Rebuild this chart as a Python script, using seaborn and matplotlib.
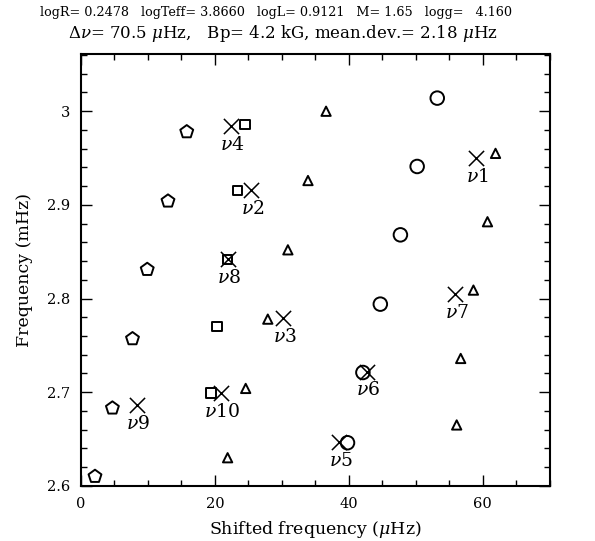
import matplotlib
matplotlib.use('Agg')
import matplotlib.pyplot as plt
from matplotlib.ticker import MultipleLocator, FormatStrFormatter
import seaborn as sns
import pandas as pd

# echelle diagram data (shifted freq in muHz, freq in mHz)
pent_x = [15.8, 13.0, 9.9, 7.7, 4.7, 2.1]
pent_y = [2.978, 2.904, 2.831, 2.757, 2.683, 2.610]
sq_x = [24.5, 23.4, 21.9, 20.3, 19.4]
sq_y = [2.986, 2.915, 2.842, 2.770, 2.699]
circ_x = [53.2, 50.2, 47.7, 44.7, 42.1, 39.8]
circ_y = [3.014, 2.941, 2.868, 2.794, 2.721, 2.646]
tri_x = [36.6, 33.9, 30.9, 27.9, 24.6, 21.9, 61.9, 60.7, 58.6, 56.7, 56.1]
tri_y = [3.000, 2.926, 2.852, 2.778, 2.704, 2.630, 2.955, 2.882, 2.809, 2.736, 2.665]
obs_x = [59.0, 25.4, 30.2, 22.4, 38.6, 42.7, 55.9, 21.9, 8.3, 20.9]
obs_y = [2.950, 2.916, 2.779, 2.984, 2.647, 2.722, 2.805, 2.842, 2.686, 2.699]
obs_lab = ['1', '2', '3', '4', '5', '6', '7', '8', '9', '10']

title1 = 'logR= 0.2478   logTeff= 3.8660   logL= 0.9121   M= 1.65   logg=   4.160'
title2 = r'$\Delta\nu$= 70.5 $\mu$Hz,   Bp= 4.2 kG, mean.dev.= 2.18 $\mu$Hz'

sns.set_style('ticks')
plt.rcParams['font.family'] = ['DejaVu Serif']
plt.rcParams['mathtext.fontset'] = 'dejavuserif'
plt.rcParams['axes.linewidth'] = 1.5
for k in ['text.color', 'axes.labelcolor', 'xtick.color', 'ytick.color', 'axes.edgecolor']:
    plt.rcParams[k] = 'black'

fig = plt.figure(figsize=(5.95, 5.41), dpi=100)
ax = fig.add_axes([0.136, 0.102, 0.788, 0.798])

groups = [
    (pent_x, pent_y, 'p', 95),
    (sq_x, sq_y, 's', 45),
    (circ_x, circ_y, 'o', 95),
    (tri_x, tri_y, '^', 45),
]
for xs, ys, m, s in groups:
    df = pd.DataFrame({'x': xs, 'y': ys})
    sns.scatterplot(data=df, x='x', y='y', ax=ax, marker=m, s=s,
                    facecolors='none', edgecolors='black', linewidths=1.4)

df_obs = pd.DataFrame({'x': obs_x, 'y': obs_y, 'lab': obs_lab})
sns.scatterplot(data=df_obs, x='x', y='y', ax=ax, marker='x', s=120,
                color='black', linewidths=1.1)
for _, r in df_obs.iterrows():
    ax.annotate(r'$\nu$' + r['lab'], (r['x'], r['y']), xytext=(1, -13.5),
                textcoords='offset points', ha='center', va='center',
                fontsize=13.5)

ax.set_xlim(0, 70)
ax.set_ylim(2.6, 3.061)
ax.xaxis.set_major_locator(MultipleLocator(20))
ax.xaxis.set_minor_locator(MultipleLocator(5))
ax.yaxis.set_major_locator(MultipleLocator(0.1))
ax.yaxis.set_minor_locator(MultipleLocator(0.02))
ax.yaxis.set_major_formatter(FormatStrFormatter('%g'))
ax.tick_params(which='both', direction='in', top=True, right=True,
               labelsize=10.5, width=1.0, pad=8)
ax.tick_params(which='major', length=8)
ax.tick_params(which='minor', length=4)
ax.set_xlabel(r'Shifted frequency ($\mu$Hz)', fontsize=12.5, labelpad=6)
ax.set_ylabel('Frequency (mHz)', fontsize=12.5, labelpad=10)

fig.text(0.464, 0.977, title1, ha='center', va='center', fontsize=9.2)
fig.text(0.476, 0.939, title2, ha='center', va='center', fontsize=12)

plt.savefig('out.png', dpi=100)
